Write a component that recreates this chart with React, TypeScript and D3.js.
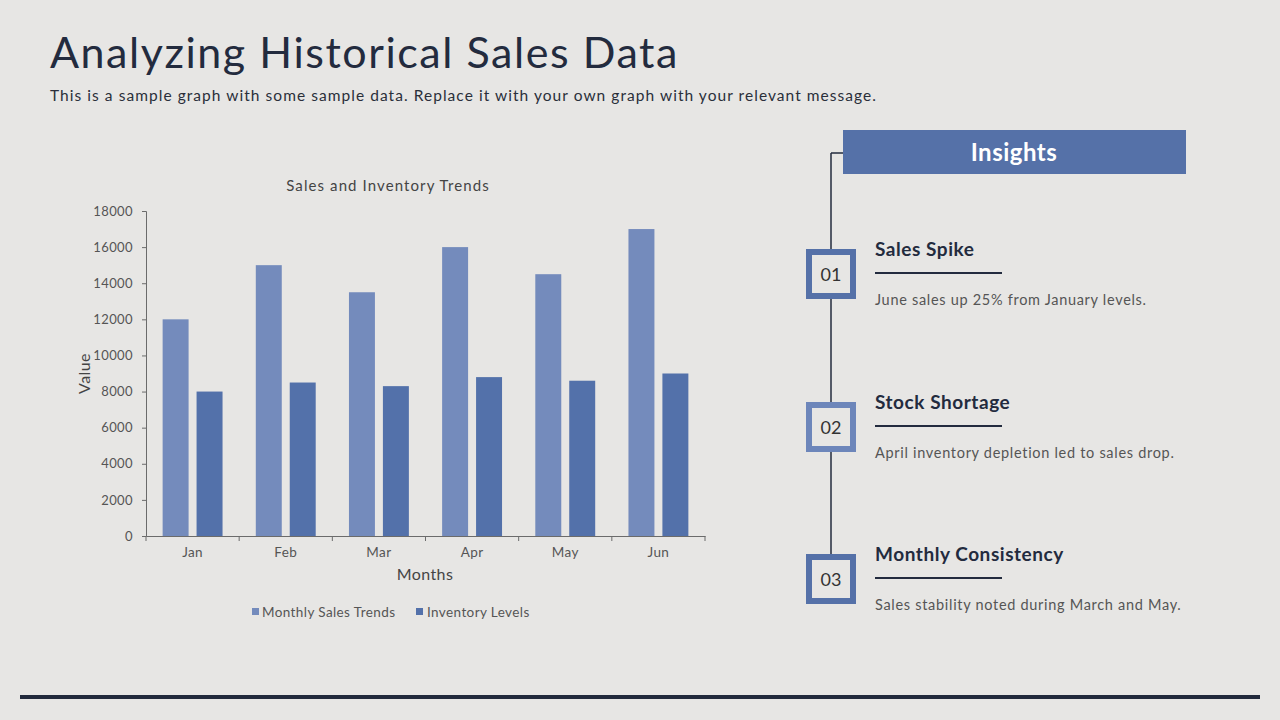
import React, { useEffect, useRef } from 'react';
import * as d3 from 'd3';

const months = ['Jan', 'Feb', 'Mar', 'Apr', 'May', 'Jun'];
const seriesNames = ['Monthly Sales Trends', 'Inventory Levels'];
const salesValues = [12000, 15000, 13500, 16000, 14500, 17000];
const inventoryValues = [8000, 8500, 8300, 8800, 8600, 9000];
const yTicks = [0, 2000, 4000, 6000, 8000, 10000, 12000, 14000, 16000, 18000];

const insightNumbers = ['01', '02', '03'];
const insightTitles = ['Sales Spike', 'Stock Shortage', 'Monthly Consistency'];
const insightTexts = [
  'June sales up 25% from January levels.',
  'April inventory depletion led to sales drop.',
  'Sales stability noted during March and May.',
];

const BG = '#E7E6E4';
const NAVY = '#232B3E';
const SALES_COLOR = '#748BBC';
const INV_COLOR = '#5371AA';
const FONT = 'Lato, "DejaVu Sans", sans-serif';

const App = () => {
  const xAxisRef = useRef<SVGGElement>(null);
  const yAxisRef = useRef<SVGGElement>(null);

  // chart frame
  const left = 146, right = 705, top = 211, bottom = 536;

  const x = d3.scaleBand<string>().domain(months).range([left, right]).paddingInner(0);
  const xSeries = d3.scaleBand<string>().domain(seriesNames)
    .range([0, x.bandwidth()]).paddingInner(0.235).paddingOuter(0.49);
  const y = d3.scaleLinear().domain([0, 18000]).range([bottom, top]);
  const color = d3.scaleOrdinal<string, string>().domain(seriesNames).range([SALES_COLOR, INV_COLOR]);

  const rows = months.map((m, i) => ({ month: m, values: [salesValues[i], inventoryValues[i]] }));

  useEffect(() => {
    document.body.style.margin = '0';

    const yAxis = d3.select(yAxisRef.current!);
    yAxis.call(d3.axisLeft(y).tickValues(yTicks).tickSize(4).tickPadding(9).tickFormat(d3.format('d')));
    yAxis.select('.domain').attr('stroke', '#6b6b6b');
    yAxis.selectAll('.tick line').attr('stroke', '#6b6b6b');
    yAxis.selectAll('.tick text').attr('fill', '#555').style('font-size', '13px')
      .style('letter-spacing', '0.4px').style('font-family', FONT);

    const xAxis = d3.select(xAxisRef.current!);
    xAxis.call(d3.axisBottom(x).tickSize(0).tickPadding(11));
    xAxis.select('.domain').attr('stroke', '#6b6b6b');
    xAxis.selectAll('.tick text').attr('fill', '#555').style('font-size', '13.5px')
      .style('letter-spacing', '0.4px').style('font-family', FONT);
    // boundary tick marks between categories
    xAxis.selectAll('.sep').remove();
    xAxis.selectAll('.sep')
      .data([...months.map(m => x(m)!), right])
      .enter().append('line')
      .attr('class', 'sep')
      .attr('x1', d => d).attr('x2', d => d)
      .attr('y1', 0).attr('y2', 5)
      .attr('stroke', '#6b6b6b');
  }, []);

  const boxY = [249, 402, 554];
  const boxColors = ['#5571A8', '#6D86BA', '#5571A8'];

  return (
    <svg width={1280} height={720} style={{ display: 'block', background: BG, fontFamily: FONT }}>
      <rect x={0} y={0} width={1280} height={720} fill={BG} />

      {/* heading */}
      <text x={50} y={68} fontSize={43} fill={NAVY} letterSpacing={1.55}>
        Analyzing Historical Sales Data
      </text>
      <text x={50} y={101} fontSize={15.5} fill="#2a2f3a" letterSpacing={1.05}>
        This is a sample graph with some sample data. Replace it with your own graph with your relevant message.
      </text>

      {/* chart */}
      <text x={388} y={191} fontSize={15} fill="#444" textAnchor="middle" letterSpacing={1.1}>Sales and Inventory Trends</text>

      {rows.map(r => (
        <g key={r.month} transform={`translate(${x(r.month)},0)`}>
          {r.values.map((v, j) => (
            <rect
              key={j}
              x={xSeries(seriesNames[j])}
              y={y(v)}
              width={xSeries.bandwidth()}
              height={y(0) - y(v)}
              fill={color(seriesNames[j])}
            />
          ))}
        </g>
      ))}

      <g ref={yAxisRef} transform={`translate(${left},0)`} />
      <g ref={xAxisRef} transform={`translate(0,${bottom})`} />

      <text transform={`translate(90,${(top + bottom) / 2}) rotate(-90)`} fontSize={16} fill="#444" textAnchor="middle" letterSpacing={0.4}>Value</text>
      <text x={425} y={580} fontSize={16} fill="#444" textAnchor="middle" letterSpacing={0.4}>Months</text>

      {/* legend */}
      <rect x={252} y={608} width={7} height={7} fill={SALES_COLOR} />
      <text x={262} y={617} fontSize={13.5} fill="#555" letterSpacing={0.4}>{seriesNames[0]}</text>
      <rect x={416} y={608} width={7} height={7} fill={INV_COLOR} />
      <text x={427} y={617} fontSize={13.5} fill="#555" letterSpacing={0.4}>{seriesNames[1]}</text>

      {/* insights panel */}
      <line x1={831} y1={153} x2={831} y2={554} stroke={NAVY} strokeWidth={1.5} />
      <line x1={831} y1={153} x2={843} y2={153} stroke={NAVY} strokeWidth={1.5} />
      <rect x={843} y={130} width={343} height={44} fill="#5571A8" />
      <text x={1014} y={161} fontSize={24} fontWeight={700} fill="#fff" textAnchor="middle" letterSpacing={0.5}>Insights</text>

      {insightNumbers.map((n, i) => (
        <g key={n}>
          <rect x={809} y={boxY[i] + 3} width={44} height={44} fill={BG} stroke={boxColors[i]} strokeWidth={6} />
          <text x={831} y={boxY[i] + 32} fontSize={18} fill="#333" textAnchor="middle">{n}</text>
          <text x={875} y={boxY[i] + 7} fontSize={19} fontWeight={700} fill={NAVY} letterSpacing={0.55}>{insightTitles[i]}</text>
          <line x1={875} y1={boxY[i] + 24} x2={1002} y2={boxY[i] + 24} stroke={NAVY} strokeWidth={1.8} />
          <text x={875} y={boxY[i] + 56} fontSize={14.5} fill="#555" letterSpacing={0.7}>{insightTexts[i]}</text>
        </g>
      ))}

      <line x1={20} y1={697} x2={1260} y2={697} stroke="#222A3C" strokeWidth={4} />
    </svg>
  );
};

export default App;
